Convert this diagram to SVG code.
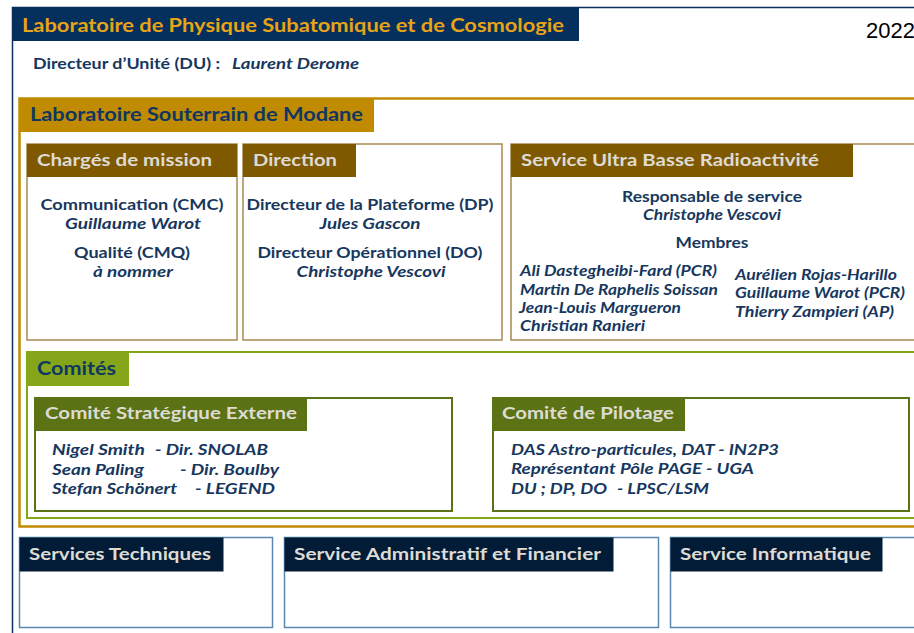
<svg xmlns="http://www.w3.org/2000/svg" width="914" height="633" viewBox="0 0 914 633">
<style>
text{font-family:Lato,"Open Sans","Liberation Sans",sans-serif;font-weight:bold}
.t{fill:#17375e;font-size:15px}
.i{fill:#17375e;font-size:15px;font-style:italic}
.c{text-anchor:middle}
.hl{fill:#dedbd3;font-size:17.5px}
.hn{fill:#0f3762;font-size:19px}
.brd{fill:#fff;stroke:#a8894f;stroke-width:1.5}
.hb{fill:#7f5900}
.grn{fill:#fff;stroke:#5b7314;stroke-width:2}
.gh{fill:#5b7314}
.blu{fill:#fff;stroke:#5a86b0;stroke-width:1.5}
.bh{fill:#021c38}
</style>
<rect width="914" height="633" fill="#fff"/>
<g id="lpsc">
<path d="M12.5,633 V7.5 H914" fill="none" stroke="#0b3160" stroke-width="1.5"/>
<rect x="12" y="7" width="567" height="34" fill="#05305d"/>
<text x="22" y="32" font-size="19" fill="#e8a317" textLength="542" lengthAdjust="spacingAndGlyphs">Laboratoire de Physique Subatomique et de Cosmologie</text>
<text x="866" y="38" style="font-family:'Liberation Sans',Arial,sans-serif;font-weight:normal" font-size="22" fill="#000">2022</text>
<text x="33" y="69" class="t" textLength="187" lengthAdjust="spacingAndGlyphs">Directeur d’Unité (DU) :</text>
<text x="232" y="69" class="i" textLength="127" lengthAdjust="spacingAndGlyphs">Laurent Derome</text>
</g>
<g id="lsm">
<rect x="19.5" y="98.5" width="910" height="428" fill="none" stroke="#c08b00" stroke-width="2.5"/>
<rect x="19" y="98" width="355" height="34" fill="#c08b00"/>
<text x="30" y="121" class="hn" textLength="333" lengthAdjust="spacingAndGlyphs">Laboratoire Souterrain de Modane</text>
</g>
<g id="charges">
<rect x="27" y="144" width="210" height="196" class="brd"/>
<rect x="27" y="144" width="210" height="33" class="hb"/>
<text x="37" y="166" class="hl" textLength="175" lengthAdjust="spacingAndGlyphs">Chargés de mission</text>
<text x="132" y="210" class="t c" textLength="183" lengthAdjust="spacingAndGlyphs">Communication (CMC)</text>
<text x="133" y="229" class="i c" textLength="136" lengthAdjust="spacingAndGlyphs">Guillaume Warot</text>
<text x="132" y="258" class="t c" textLength="116" lengthAdjust="spacingAndGlyphs">Qualité (CMQ)</text>
<text x="133" y="277" class="i c" textLength="80" lengthAdjust="spacingAndGlyphs">à nommer</text>
</g>
<g id="direction">
<rect x="243" y="144" width="259" height="196" class="brd"/>
<rect x="243" y="144" width="113" height="33" class="hb"/>
<text x="253" y="166" class="hl" textLength="84" lengthAdjust="spacingAndGlyphs">Direction</text>
<text x="370" y="210" class="t c" textLength="247" lengthAdjust="spacingAndGlyphs">Directeur de la Plateforme (DP)</text>
<text x="370" y="229" class="i c" textLength="101" lengthAdjust="spacingAndGlyphs">Jules Gascon</text>
<text x="370" y="258" class="t c" textLength="225" lengthAdjust="spacingAndGlyphs">Directeur Opérationnel (DO)</text>
<text x="371" y="277" class="i c" textLength="149" lengthAdjust="spacingAndGlyphs">Christophe Vescovi</text>
</g>
<g id="ulbr">
<rect x="511" y="144" width="420" height="196" class="brd"/>
<rect x="511" y="144" width="342" height="33" class="hb"/>
<text x="521" y="166" class="hl" textLength="298" lengthAdjust="spacingAndGlyphs">Service Ultra Basse Radioactivité</text>
<text x="712" y="202" class="t c" textLength="180" lengthAdjust="spacingAndGlyphs">Responsable de service</text>
<text x="712" y="220" class="i c" textLength="138" lengthAdjust="spacingAndGlyphs">Christophe Vescovi</text>
<text x="712" y="248" class="t c" textLength="73" lengthAdjust="spacingAndGlyphs">Membres</text>
<text x="520" y="276" class="i" textLength="197" lengthAdjust="spacingAndGlyphs">Ali Dastegheibi-Fard (PCR)</text>
<text x="520" y="295" class="i" textLength="198" lengthAdjust="spacingAndGlyphs">Martin De Raphelis Soissan</text>
<text x="519" y="313" class="i" textLength="162" lengthAdjust="spacingAndGlyphs">Jean-Louis Margueron</text>
<text x="520" y="331" class="i" textLength="125" lengthAdjust="spacingAndGlyphs">Christian Ranieri</text>
<text x="735" y="280" class="i" textLength="162" lengthAdjust="spacingAndGlyphs">Aurélien Rojas-Harillo</text>
<text x="735" y="298" class="i" textLength="170" lengthAdjust="spacingAndGlyphs">Guillaume Warot (PCR)</text>
<text x="735" y="317" class="i" textLength="159" lengthAdjust="spacingAndGlyphs">Thierry Zampieri (AP)</text>
</g>
<g id="comites">
<rect x="27" y="352" width="900" height="166" fill="none" stroke="#86a61a" stroke-width="2"/>
<rect x="27" y="352" width="102" height="34" fill="#86a61a"/>
<text x="37" y="375" class="hn" textLength="79" lengthAdjust="spacingAndGlyphs">Comités</text>
</g>
<g id="cse">
<rect x="35" y="398" width="417" height="113" class="grn"/>
<rect x="35" y="398" width="272" height="33" class="gh"/>
<text x="45" y="419" class="hl" textLength="252" lengthAdjust="spacingAndGlyphs">Comité Stratégique Externe</text>
<text x="52" y="455" class="i" textLength="93" lengthAdjust="spacingAndGlyphs">Nigel Smith</text>
<text x="155" y="455" class="i" textLength="113" lengthAdjust="spacingAndGlyphs">- Dir. SNOLAB</text>
<text x="52" y="475" class="i" textLength="92" lengthAdjust="spacingAndGlyphs">Sean Paling</text>
<text x="180" y="475" class="i" textLength="99" lengthAdjust="spacingAndGlyphs">- Dir. Boulby</text>
<text x="52" y="494" class="i" textLength="125" lengthAdjust="spacingAndGlyphs">Stefan Schönert</text>
<text x="195" y="494" class="i" textLength="80" lengthAdjust="spacingAndGlyphs">- LEGEND</text>
</g>
<g id="copil">
<rect x="493" y="398" width="416" height="113" class="grn"/>
<rect x="493" y="398" width="192" height="33" class="gh"/>
<text x="502" y="419" class="hl" textLength="172" lengthAdjust="spacingAndGlyphs">Comité de Pilotage</text>
<text x="511" y="455" class="i" textLength="268" lengthAdjust="spacingAndGlyphs">DAS Astro-particules, DAT - IN2P3</text>
<text x="511" y="474" class="i" textLength="243" lengthAdjust="spacingAndGlyphs">Représentant Pôle PAGE - UGA</text>
<text x="511" y="494" class="i" textLength="96" lengthAdjust="spacingAndGlyphs">DU ; DP, DO</text>
<text x="617" y="494" class="i" textLength="92" lengthAdjust="spacingAndGlyphs">- LPSC/LSM</text>
</g>
<g id="st">
<rect x="19.5" y="537.5" width="253" height="90" class="blu"/>
<rect x="19.5" y="537.5" width="204" height="34" class="bh"/>
<text x="29" y="560" class="hl" textLength="182" lengthAdjust="spacingAndGlyphs">Services Techniques</text>
</g>
<g id="saf">
<rect x="284.5" y="537.5" width="374" height="90" class="blu"/>
<rect x="284.5" y="537.5" width="329" height="34" class="bh"/>
<text x="294" y="560" class="hl" textLength="307" lengthAdjust="spacingAndGlyphs">Service Administratif et Financier</text>
</g>
<g id="si">
<rect x="670.5" y="537.5" width="260" height="90" class="blu"/>
<rect x="670.5" y="537.5" width="212" height="34" class="bh"/>
<text x="680" y="560" class="hl" textLength="191" lengthAdjust="spacingAndGlyphs">Service Informatique</text>
</g>
<g id="connectors"/>
</svg>
